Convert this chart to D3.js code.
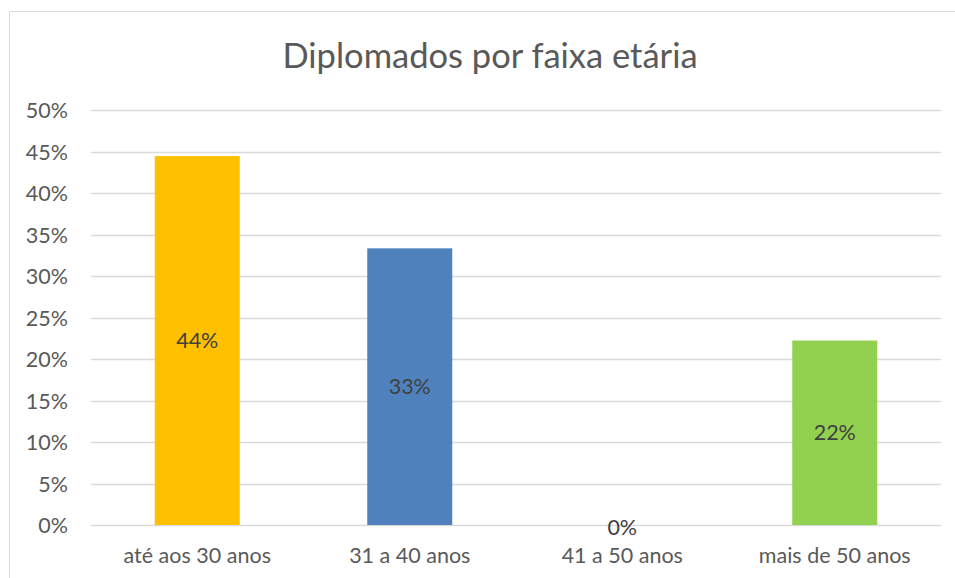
<!DOCTYPE html>
<html>
<head>
<meta charset="utf-8">
<script src="https://cdn.jsdelivr.net/npm/d3@7"></script>
<style>
  body { margin: 0; background: #fff; }
  text { font-family: Lato, "Open Sans", sans-serif; }
</style>
</head>
<body>
<div id="chart"></div>
<script>
var categories = ["até aos 30 anos", "31 a 40 anos", "41 a 50 anos", "mais de 50 anos"];
var values = [4 / 9, 3 / 9, 0, 2 / 9];
var barColors = ["#FFC000", "#4F81BD", "#4F81BD", "#92D050"];
var yTicks = [0, 0.05, 0.10, 0.15, 0.20, 0.25, 0.30, 0.35, 0.40, 0.45, 0.50];
var title = "Diplomados por faixa etária";

function init() {
    var w = 955, h = 578;
    var left = 91, right = 941, top = 110, bottom = 525;
    var fs = "21.5px";

    var svg = d3.select("#chart").append("svg")
        .attr("width", w)
        .attr("height", h);

    // chart border (top and left visible)
    svg.append("rect")
        .attr("x", 9.5).attr("y", 11.5)
        .attr("width", 990).attr("height", 620)
        .attr("fill", "none")
        .attr("stroke", "#d9d9d9")
        .attr("stroke-width", 1);

    var x = d3.scaleBand()
        .domain(categories)
        .range([left, right])
        .paddingInner(0.6)
        .paddingOuter(0.3);

    var y = d3.scaleLinear()
        .domain([0, 0.5])
        .range([bottom, top]);

    // gridlines
    svg.append("g")
        .selectAll("line")
        .data(yTicks)
        .join("line")
        .attr("x1", left).attr("x2", right)
        .attr("y1", function (d) { return Math.round(y(d)) + 0.5; })
        .attr("y2", function (d) { return Math.round(y(d)) + 0.5; })
        .attr("stroke", "#d9d9d9")
        .attr("stroke-width", 1.5);

    // y axis labels
    var yAxis = d3.axisLeft(y)
        .tickValues(yTicks)
        .tickFormat(d3.format(".0%"))
        .tickSize(0)
        .tickPadding(0);
    var gy = svg.append("g")
        .attr("transform", "translate(68,0)")
        .call(yAxis);
    gy.select(".domain").remove();
    gy.selectAll("text")
        .attr("font-family", "Lato, sans-serif")
        .attr("font-size", fs)
        .attr("fill", "#595959")
        .attr("dy", "0.35em");

    // bars
    svg.append("g")
        .selectAll("rect")
        .data(values)
        .join("rect")
        .attr("x", function (d, i) { return x(categories[i]); })
        .attr("y", function (d) { return y(d); })
        .attr("width", x.bandwidth())
        .attr("height", function (d) { return y(0) - y(d); })
        .attr("fill", function (d, i) { return barColors[i]; });

    // data labels
    svg.append("g")
        .selectAll("text")
        .data(values)
        .join("text")
        .attr("x", function (d, i) { return x(categories[i]) + x.bandwidth() / 2; })
        .attr("y", function (d) { return d > 0 ? (y(d) + y(0)) / 2 : y(0) + 2; })
        .attr("dy", "0.35em")
        .attr("text-anchor", "middle")
        .attr("font-size", fs)
        .attr("fill", "#404040")
        .text(function (d) { return d3.format(".0%")(d); });

    // x axis labels
    var xAxis = d3.axisBottom(x).tickSize(0).tickPadding(0);
    var gx = svg.append("g")
        .attr("transform", "translate(0,548)")
        .call(xAxis);
    gx.select(".domain").remove();
    gx.selectAll("text")
        .attr("font-family", "Lato, sans-serif")
        .attr("font-size", fs)
        .attr("fill", "#595959");

    // title
    svg.append("text")
        .attr("x", 490)
        .attr("y", 68)
        .attr("text-anchor", "middle")
        .attr("font-size", "34.5px")
        .attr("fill", "#595959")
        .text(title);
}

window.onload = init;
</script>
</body>
</html>
